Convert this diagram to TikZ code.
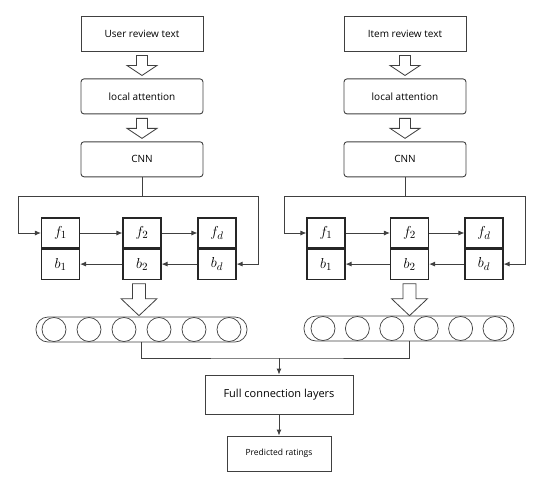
\documentclass[tikz,border=0pt]{standalone}
\usepackage{fontspec}
\setmainfont{Open Sans}
\usetikzlibrary{positioning,arrows.meta,calc}

\tikzset{
  harrow/.pic={\draw[line width=0.8pt, draw=black!75, fill=white]
    (-5.5,0) -- (5.5,0) -- (5.5,10) -- (15,10) -- (0,20) -- (-15,10) -- (-5.5,10) -- cycle;},
  bigharrow/.pic={\draw[line width=0.8pt, draw=black!75, fill=white]
    (-6.5,0) -- (6.5,0) -- (6.5,15) -- (18,15) -- (0,32) -- (-18,15) -- (-6.5,15) -- cycle;}
}

\begin{document}
\begin{tikzpicture}[x=1pt, y=-1pt,
  box/.style={draw=black!75, line width=0.9pt, align=center, font=\fontsize{10}{12}\selectfont,
              minimum width=122pt, minimum height=35pt, inner sep=0pt},
  rbox/.style={box, rounded corners=3pt},
  cell/.style={draw=black!85, line width=1.1pt, minimum width=38pt, minimum height=30pt,
               inner sep=0pt, font=\fontsize{15}{17}\selectfont},
  tube/.style={draw=black!75, line width=0.7pt, rounded corners=12pt, minimum height=25pt, inner sep=0pt},
  bead/.style={draw=black!75, line width=0.7pt, circle, minimum size=24pt, inner sep=0pt},
  arr/.style={-{Latex[length=6pt,width=5pt]}, line width=0.9pt, draw=black!75},
  wire/.style={line width=0.9pt, draw=black!75},
  node distance=27pt
]
  \useasboundingbox (0,0) rectangle (544,488);

  % user side
  \node[box] (ut) at (142,33.5) {User review text};
  \node[rbox, below=of ut] (uatt) {local attention};
  \node[rbox, below=of uatt] (ucnn) {CNN};
  \pic at ($(ut.south)+(0,4)$) {harrow};
  \pic at ($(uatt.south)+(0,4)$) {harrow};

  \node[cell] (uf1) at (60.5,233) {$f_1$};
  \node[cell] (uf2) at (142,233) {$f_2$};
  \node[cell] (ufd) at (217,233) {$f_d$};
  \node[cell, below=0pt of uf1] (ub1) {$b_1$};
  \node[cell, below=0pt of uf2] (ub2) {$b_2$};
  \node[cell, below=0pt of ufd] (ubd) {$b_d$};

  \coordinate (ujoin) at ($(ucnn.south)+(0,19)$);
  \draw[wire] (ucnn) -- (ujoin);
  \draw[arr] (ujoin) -| ([xshift=-23pt]uf1.west) -- (uf1.west);
  \draw[arr] (ujoin) -| ([xshift=22pt]ubd.east) -- (ubd.east);
  \draw[arr] (uf1) -- (uf2);
  \draw[arr] (uf2) -- (ufd);
  \draw[arr] (ubd) -- (ub2);
  \draw[arr] (ub2) -- (ub1);

  \pic at ($(ub2.south)+(-3,4)$) {bigharrow};
  \node[tube, minimum width=211pt] (utube) at (141.5,329.5) {};
  \foreach \i in {0,...,5}
    \node[bead] at ($(utube.center)+(-87.5+35*\i,0)$) {};

  % item side
  \node[box] (it) at (405,33.5) {Item review text};
  \node[rbox, below=of it] (iatt) {local attention};
  \node[rbox, below=of iatt] (icnn) {CNN};
  \pic at ($(it.south)+(0,4)$) {harrow};
  \pic at ($(iatt.south)+(0,4)$) {harrow};

  \node[cell] (if1) at (326,233) {$f_1$};
  \node[cell] (if2) at (409.5,233) {$f_2$};
  \node[cell] (ifd) at (484,233) {$f_d$};
  \node[cell, below=0pt of if1] (ib1) {$b_1$};
  \node[cell, below=0pt of if2] (ib2) {$b_2$};
  \node[cell, below=0pt of ifd] (ibd) {$b_d$};

  \coordinate (ijoin) at ($(icnn.south)+(0,19)$);
  \draw[wire] (icnn) -- (ijoin);
  \draw[arr] (ijoin) -| ([xshift=-22pt]if1.west) -- (if1.west);
  \draw[arr] (ijoin) -| ([xshift=22pt]ibd.east) -- (ibd.east);
  \draw[arr] (if1) -- (if2);
  \draw[arr] (if2) -- (ifd);
  \draw[arr] (ibd) -- (ib2);
  \draw[arr] (ib2) -- (ib1);

  \pic at ($(ib2.south)+(0,4)$) {bigharrow};
  \node[tube, minimum width=210pt] (itube) at (409,328.5) {};
  \foreach \i in {0,...,5}
    \node[bead] at ($(itube.center)+(-86+34.4*\i,0)$) {};

  % output
  \coordinate (merge) at (279,358);
  \node[box, minimum width=148pt, minimum height=39pt, font=\fontsize{11}{13}\selectfont] (fcl) at (279,394.5) {Full connection layers};
  \node[box, minimum width=104pt, font=\fontsize{8.5}{10}\selectfont] (pr) at (279,453.5) {Predicted ratings};

  \draw[wire] (utube.south) |- (merge) -| (itube.south);
  \draw[arr] (merge) -- (fcl);
  \draw[arr] (fcl) -- (pr);
\end{tikzpicture}
\end{document}
